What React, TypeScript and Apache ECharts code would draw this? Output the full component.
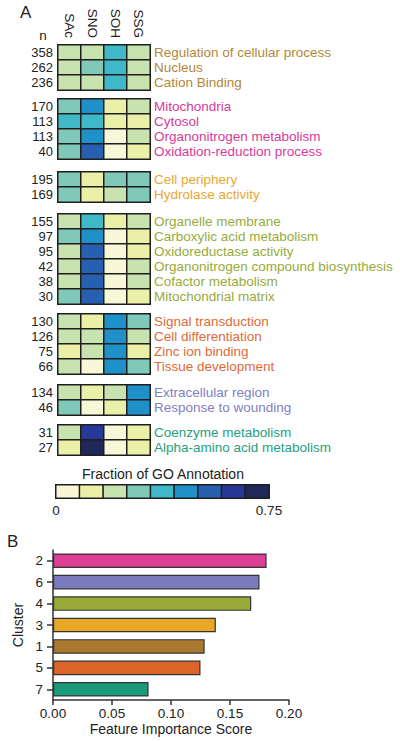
import React, { useEffect, useRef } from "react";
import * as echarts from "echarts";

// ---------- DATA ----------
const columns = ["SAc", "SNO", "SOH", "SSG"];

const g1Terms = ["Regulation of cellular process", "Nucleus", "Cation Binding"];
const g1Counts = ["358", "262", "236"];
const g1Values = [
  [0.21, 0.21, 0.37, 0.21],
  [0.21, 0.29, 0.37, 0.21],
  [0.21, 0.21, 0.37, 0.21],
];

const g2Terms = ["Mitochondria", "Cytosol", "Organonitrogen metabolism", "Oxidation-reduction process"];
const g2Counts = ["170", "113", "113", "40"];
const g2Values = [
  [0.29, 0.46, 0.12, 0.21],
  [0.37, 0.37, 0.12, 0.12],
  [0.29, 0.46, 0.04, 0.21],
  [0.29, 0.54, 0.04, 0.12],
];

const g3Terms = ["Cell periphery", "Hydrolase activity"];
const g3Counts = ["195", "169"];
const g3Values = [
  [0.29, 0.12, 0.29, 0.29],
  [0.29, 0.12, 0.21, 0.29],
];

const g4Terms = [
  "Organelle membrane",
  "Carboxylic acid metabolism",
  "Oxidoreductase activity",
  "Organonitrogen compound biosynthesis",
  "Cofactor metabolism",
  "Mitochondrial matrix",
];
const g4Counts = ["155", "97", "95", "42", "38", "30"];
const g4Values = [
  [0.21, 0.37, 0.12, 0.21],
  [0.29, 0.46, 0.04, 0.12],
  [0.21, 0.54, 0.04, 0.12],
  [0.21, 0.54, 0.04, 0.21],
  [0.21, 0.54, 0.04, 0.21],
  [0.29, 0.54, 0.04, 0.12],
];

const g5Terms = ["Signal transduction", "Cell differentiation", "Zinc ion binding", "Tissue development"];
const g5Counts = ["130", "126", "75", "66"];
const g5Values = [
  [0.21, 0.12, 0.46, 0.29],
  [0.21, 0.21, 0.46, 0.21],
  [0.12, 0.21, 0.46, 0.12],
  [0.21, 0.04, 0.46, 0.29],
];

const g6Terms = ["Extracellular region", "Response to wounding"];
const g6Counts = ["134", "46"];
const g6Values = [
  [0.21, 0.12, 0.21, 0.46],
  [0.29, 0.04, 0.12, 0.46],
];

const g7Terms = ["Coenzyme metabolism", "Alpha-amino acid metabolism"];
const g7Counts = ["31", "27"];
const g7Values = [
  [0.21, 0.62, 0.04, 0.12],
  [0.12, 0.71, 0.04, 0.12],
];

const groupColors = ["#b0883a", "#d83a98", "#e8a830", "#98ab3a", "#de6a38", "#7f80c2", "#25a07e"];

const scaleColors = ["#f8f8d8", "#eaf0a8", "#c8e2b0", "#80c8b8", "#40b8c8", "#2090c8", "#2860b0", "#283898", "#202858"];
const scaleMin = 0;
const scaleMax = 0.75;
const scaleBinValues = [0.04, 0.12, 0.21, 0.29, 0.37, 0.46, 0.54, 0.62, 0.71];

const clusters = ["2", "6", "4", "3", "1", "5", "7"];
const importance = [0.181, 0.175, 0.168, 0.138, 0.1285, 0.125, 0.081];
const clusterColors = ["#dc3f96", "#7a7bbf", "#9aab3a", "#e8a826", "#a8792e", "#dc6428", "#1a9a7a"];

// ---------- LAYOUT ----------
const FONT = "Liberation Sans, Arial, Helvetica, sans-serif";
const groups = [
  { terms: g1Terms, counts: g1Counts, values: g1Values, top: 45 },
  { terms: g2Terms, counts: g2Counts, values: g2Values, top: 99 },
  { terms: g3Terms, counts: g3Counts, values: g3Values, top: 172 },
  { terms: g4Terms, counts: g4Counts, values: g4Values, top: 214 },
  { terms: g5Terms, counts: g5Counts, values: g5Values, top: 314 },
  { terms: g6Terms, counts: g6Counts, values: g6Values, top: 385 },
  { terms: g7Terms, counts: g7Counts, values: g7Values, top: 425 },
];
const ROW_H = 15;
const HM_LEFT = 58;
const HM_W = 92;

export default function App() {
  const ref = useRef<HTMLDivElement>(null);

  useEffect(() => {
    if (!ref.current) return;
    const chart = echarts.init(ref.current, undefined, { renderer: "svg" });

    const grids: any[] = [];
    const xAxes: any[] = [];
    const yAxes: any[] = [];
    const series: any[] = [];
    const hmSeriesIdx: number[] = [];

    groups.forEach((g, gi) => {
      grids.push({ left: HM_LEFT, top: g.top, width: HM_W, height: g.terms.length * ROW_H });
      xAxes.push({
        type: "category",
        gridIndex: gi,
        data: columns,
        position: "top",
        axisLine: { show: false },
        axisTick: { show: false },
        splitLine: { show: false },
        axisLabel: {
          show: gi === 0,
          interval: 0,
          rotate: 90,
          margin: 7,
          fontSize: 13.5,
          color: "#222",
          fontFamily: FONT,
        },
      });
      // names on the right
      yAxes.push({
        type: "category",
        gridIndex: gi,
        data: g.terms,
        inverse: true,
        position: "right",
        axisLine: { show: false },
        axisTick: { show: false },
        splitLine: { show: false },
        axisLabel: { interval: 0, margin: 4, fontSize: 13.5, color: groupColors[gi], fontFamily: FONT },
      });
      // counts on the left
      yAxes.push({
        type: "category",
        gridIndex: gi,
        data: g.counts,
        inverse: true,
        position: "left",
        axisLine: { show: false },
        axisTick: { show: false },
        splitLine: { show: false },
        axisLabel: { interval: 0, margin: 5, fontSize: 13, color: "#222", fontFamily: FONT },
      });
      const data: number[][] = [];
      g.values.forEach((row, ri) => row.forEach((v, ci) => data.push([ci, ri, v])));
      hmSeriesIdx.push(series.length);
      series.push({
        type: "heatmap",
        xAxisIndex: gi,
        yAxisIndex: gi * 2,
        data,
        itemStyle: { borderColor: "#1e1e1e", borderWidth: 1.5 },
        emphasis: { disabled: true },
      });
    });

    // colour bar
    const cbGrid = grids.length;
    grids.push({ left: 56, top: 485, width: 213, height: 13 });
    const cbX = xAxes.length;
    xAxes.push({
      type: "category",
      gridIndex: cbGrid,
      data: scaleBinValues.map((_, i) => String(i)),
      axisLine: { show: false },
      axisTick: { show: false },
      axisLabel: { show: false },
      splitLine: { show: false },
    });
    xAxes.push({
      type: "value",
      gridIndex: cbGrid,
      min: scaleMin,
      max: scaleMax,
      interval: scaleMax,
      position: "bottom",
      axisLine: { show: false },
      axisTick: { show: false },
      splitLine: { show: false },
      axisLabel: {
        margin: 5,
        fontSize: 13.5,
        color: "#222",
        fontFamily: FONT,
        formatter: (v: number) => (v === 0 ? "0" : String(v)),
      },
    });
    const cbY = yAxes.length;
    yAxes.push({
      type: "category",
      gridIndex: cbGrid,
      data: ["bin"],
      axisLine: { show: false },
      axisTick: { show: false },
      axisLabel: { show: false },
      splitLine: { show: false },
    });
    hmSeriesIdx.push(series.length);
    series.push({
      type: "heatmap",
      xAxisIndex: cbX,
      yAxisIndex: cbY,
      data: scaleBinValues.map((v, i) => [i, 0, v]),
      itemStyle: { borderColor: "#1e1e1e", borderWidth: 1.5 },
      emphasis: { disabled: true },
    });

    // bar chart
    const barGrid = grids.length;
    grids.push({ left: 53, top: 550, width: 236, height: 150 });
    const barX = xAxes.length;
    xAxes.push({
      type: "value",
      gridIndex: barGrid,
      min: 0,
      max: 0.2,
      interval: 0.05,
      name: "Feature Importance Score",
      nameLocation: "middle",
      nameGap: 22,
      nameTextStyle: { fontSize: 14, color: "#222", fontFamily: FONT },
      axisLine: { show: true, lineStyle: { color: "#333", width: 1.5 } },
      axisTick: { show: true, length: 5, lineStyle: { color: "#333", width: 1.5 } },
      splitLine: { show: false },
      axisLabel: {
        margin: 6,
        fontSize: 13.5,
        color: "#222",
        fontFamily: FONT,
        formatter: (v: number) => v.toFixed(2),
      },
    });
    const barY = yAxes.length;
    yAxes.push({
      type: "category",
      gridIndex: barGrid,
      data: clusters,
      inverse: true,
      name: "Cluster",
      nameLocation: "middle",
      nameGap: 21,
      nameTextStyle: { fontSize: 14, color: "#222", fontFamily: FONT },
      axisLine: { show: true, lineStyle: { color: "#333", width: 1.5 } },
      axisTick: { show: true, length: 6, alignWithLabel: true, lineStyle: { color: "#333", width: 1.5 } },
      splitLine: { show: false },
      axisLabel: { interval: 0, margin: 10, fontSize: 13.5, color: "#222", fontFamily: FONT },
    });
    series.push({
      type: "bar",
      xAxisIndex: barX,
      yAxisIndex: barY,
      barCategoryGap: "32%",
      data: importance.map((v, i) => ({
        value: v,
        itemStyle: { color: clusterColors[i], borderColor: "#333", borderWidth: 1.2 },
      })),
      emphasis: { disabled: true },
    });

    const pieces = scaleColors.map((c, i) => ({
      min: scaleMin + ((scaleMax - scaleMin) / scaleColors.length) * i,
      max: scaleMin + ((scaleMax - scaleMin) / scaleColors.length) * (i + 1),
      color: c,
    }));

    chart.setOption({
      animation: false,
      backgroundColor: "#fff",
      textStyle: { fontFamily: FONT },
      grid: grids,
      xAxis: xAxes,
      yAxis: yAxes,
      visualMap: {
        type: "piecewise",
        show: false,
        seriesIndex: hmSeriesIdx,
        pieces,
      },
      series,
      graphic: [
        { type: "text", left: 20, top: 4, style: { text: "A", fontSize: 17, fill: "#222", fontFamily: FONT } },
        { type: "text", left: 7, top: 533, style: { text: "B", fontSize: 17, fill: "#222", fontFamily: FONT } },
        {
          type: "text",
          x: 43,
          y: 35,
          style: { text: "n", fontSize: 13.5, fill: "#222", fontFamily: FONT, align: "center", verticalAlign: "middle" },
        },
        {
          type: "text",
          x: 163,
          y: 474,
          style: {
            text: "Fraction of GO Annotation",
            fontSize: 14,
            fill: "#222",
            fontFamily: FONT,
            align: "center",
            verticalAlign: "middle",
          },
        },
      ],
    });

    return () => chart.dispose();
  }, []);

  return (
    <div
      ref={ref}
      style={{ position: "absolute", left: 0, top: 0, width: 400, height: 741, background: "#fff" }}
    />
  );
}
